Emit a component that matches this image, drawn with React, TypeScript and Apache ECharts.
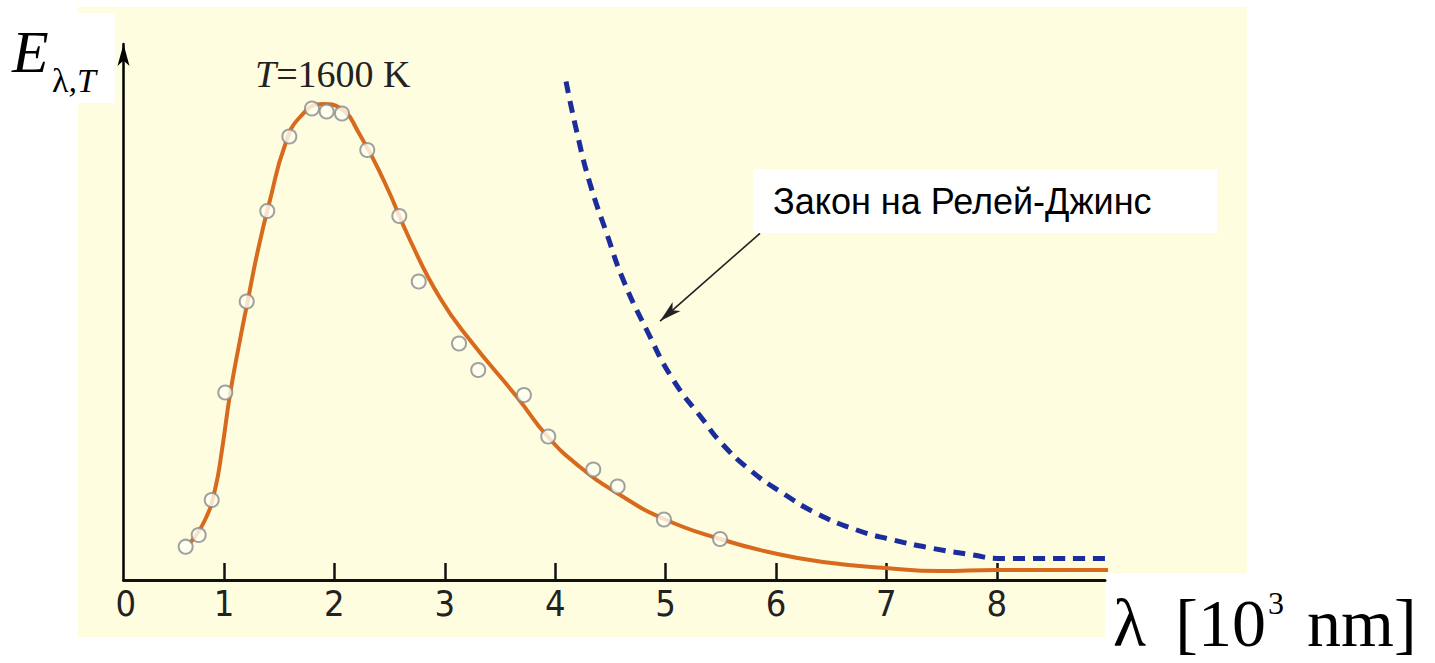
import React, { useEffect, useRef } from "react";
import * as echarts from "echarts";

// Planck curve (T = 1600 K), x in 10^3 nm, y in arbitrary units
const curveX = [0.692, 0.828, 0.918, 0.982, 1.054, 1.145, 1.217, 1.308, 1.417, 1.553, 1.689, 1.897, 2.051, 2.232, 2.458, 2.685, 2.957, 3.228, 3.654, 3.935, 4.225, 4.56, 4.986, 5.493, 5.973, 6.426, 6.996, 7.486, 7.998, 9.053];
const curveY = [7.4, 12.0, 18.0, 26.0, 37.0, 48.0, 56.0, 66.0, 76.0, 87.0, 92.6, 95.2, 94.4, 89.0, 79.4, 68.0, 56.4, 48.0, 36.6, 28.6, 22.6, 17.4, 12.2, 8.2, 5.4, 3.6, 2.4, 1.8, 2.0, 2.0];

// measured points (circles)
const pointX = [0.653, 0.771, 0.889, 1.012, 1.206, 1.392, 1.592, 1.797, 1.93, 2.069, 2.298, 2.588, 2.764, 3.129, 3.303, 3.717, 3.937, 4.345, 4.566, 4.985, 5.493];
const pointY = [6.66, 9.0, 16.0, 37.5, 55.7, 73.8, 88.7, 94.3, 93.7, 93.3, 86.0, 72.8, 59.7, 47.3, 42.0, 37.0, 28.7, 22.1, 18.7, 12.1, 8.2];

// Rayleigh-Jeans law (dashed)
const rjX = [4.098, 4.195, 4.315, 4.467, 4.617, 4.829, 5.07, 5.341, 5.493, 5.764, 6.066, 6.369, 6.731, 7.063, 7.425, 7.787, 8.013, 9.0];
const rjY = [99.7, 89.7, 79.3, 69.3, 60.0, 50.0, 40.0, 32.0, 27.7, 22.0, 17.3, 13.3, 10.0, 8.0, 6.3, 5.0, 4.3, 4.3];

// axis labels / ticks
const xTickValues = [1, 2, 3, 4, 5, 6, 7, 8];
const xLabelValues = [0.11, 1, 2, 3, 4, 5, 6, 7, 8];

// annotation arrow (from legend box to curve)
const arrowFrom = [5.855, 69.34];
const arrowTo = [4.95, 51.78];

const legendText = "Закон на Релей-Джинс";
const tempText = "=1600 K";

const zip = (xs: number[], ys: number[]) => xs.map((x, i) => [x, ys[i]]);

export default function App() {
  const ref = useRef<HTMLDivElement>(null);
  useEffect(() => {
    if (!ref.current) return;
    const chart = echarts.init(ref.current, null, { renderer: "svg" });
    const serif = "'Liberation Serif', 'Times New Roman', serif";
    const tickFont = "'Liberation Sans Narrow', 'DejaVu Sans Condensed', 'Liberation Sans', sans-serif";
    chart.setOption({
      animation: false,
      backgroundColor: "#ffffff",
      grid: { left: 123.5, right: 330, top: 44, bottom: 83, outerBoundsMode: "none" },
      xAxis: {
        type: "value",
        min: 0.09,
        max: 8.98,
        axisLine: { show: true, lineStyle: { color: "#111", width: 3 } },
        axisTick: { show: true, inside: true, length: 17, customValues: xTickValues, lineStyle: { color: "#111", width: 2.5 } },
        axisLabel: {
          show: true,
          customValues: xLabelValues,
          margin: 5,
          fontSize: 36,
          fontFamily: tickFont,
          color: "#222",
          formatter: (v: number) => (v < 0.5 ? "0" : String(Math.round(v))),
        },
        splitLine: { show: false },
      },
      yAxis: {
        type: "value",
        min: 0,
        max: 107.2,
        axisLine: { show: true, symbol: ["none", "arrow"], symbolSize: [9, 22], lineStyle: { color: "#000", width: 2.5 } },
        axisTick: { show: false },
        axisLabel: { show: false },
        splitLine: { show: false },
      },
      series: [
        {
          type: "line",
          data: zip(curveX, curveY),
          smooth: 0.5,
          showSymbol: false,
          clip: false,
          lineStyle: { color: "#D86A1E", width: 4 },
          z: 3,
        },
        {
          type: "scatter",
          data: zip(pointX, pointY),
          symbol: "circle",
          symbolSize: 14,
          itemStyle: { color: "#fffff4", borderColor: "#8a8a8a", borderWidth: 2 },
          z: 4,
        },
        {
          type: "line",
          data: zip(rjX, rjY),
          smooth: 0.5,
          showSymbol: false,
          clip: false,
          lineStyle: { color: "#1B2C9C", width: 5, type: [12, 8] },
          z: 3,
          markLine: {
            silent: true,
            symbol: ["none", "arrow"],
            symbolSize: [9, 22],
            label: { show: false },
            lineStyle: { color: "#222", width: 1.6, type: "solid" },
            data: [[{ coord: arrowFrom }, { coord: arrowTo }]],
          },
        },
      ],
      graphic: [
        { type: "rect", z: -100, shape: { x: 78, y: 7, width: 1169, height: 630 }, style: { fill: "#FFFDDF" } },
        { type: "rect", z: -90, shape: { x: 0, y: 13, width: 115, height: 90 }, style: { fill: "#ffffff" } },
        { type: "rect", z: -90, shape: { x: 1105, y: 573, width: 330, height: 90 }, style: { fill: "#ffffff" } },
        { type: "rect", z: 10, shape: { x: 753, y: 169, width: 464, height: 64 }, style: { fill: "#ffffff" } },
        {
          type: "text", z: 11, x: 773, y: 201,
          style: { text: legendText, font: "36px 'Liberation Sans', Arial, sans-serif", fill: "#000", verticalAlign: "middle", align: "left" },
        },
        {
          type: "text", z: 11, x: 12, y: 52,
          style: { text: "E", font: "italic 60px " + serif, fill: "#000", verticalAlign: "middle", align: "left" },
        },
        {
          type: "text", z: 11, x: 52, y: 80,
          style: {
            text: "{a|λ}{b|,T}",
            verticalAlign: "middle",
            align: "left",
            rich: {
              a: { fontSize: 34, fontFamily: serif, fill: "#000" },
              b: { fontSize: 34, fontFamily: serif, fontStyle: "italic", fill: "#000" },
            },
          },
        },
        {
          type: "text", z: 11, x: 255, y: 74,
          style: {
            text: "{t|T}{r|" + tempText + "}",
            verticalAlign: "middle",
            align: "left",
            rich: {
              t: { fontSize: 38, fontFamily: serif, fontStyle: "italic", fill: "#222" },
              r: { fontSize: 38, fontFamily: serif, fill: "#222" },
            },
          },
        },
        {
          type: "text", z: 11, x: 1113, y: 623,
          style: { text: "λ", font: "68px " + serif, lineHeight: 58, fill: "#000", verticalAlign: "middle", align: "left" },
        },
        {
          type: "text", z: 11, x: 1266, y: 623,
          style: { text: "[10", font: "68px " + serif, lineHeight: 58, fill: "#000", verticalAlign: "middle", align: "right" },
        },
        {
          type: "text", z: 11, x: 1268, y: 603,
          style: { text: "3", font: "32px " + serif, fill: "#000", verticalAlign: "middle", align: "left" },
        },
        {
          type: "text", z: 11, x: 1307, y: 623,
          style: { text: "nm]", font: "68px " + serif, lineHeight: 58, fill: "#000", verticalAlign: "middle", align: "left" },
        },
      ],
    });
    return () => chart.dispose();
  }, []);
  return <div ref={ref} style={{ position: "absolute", left: 0, top: 0, width: 1435, height: 663 }} />;
}
